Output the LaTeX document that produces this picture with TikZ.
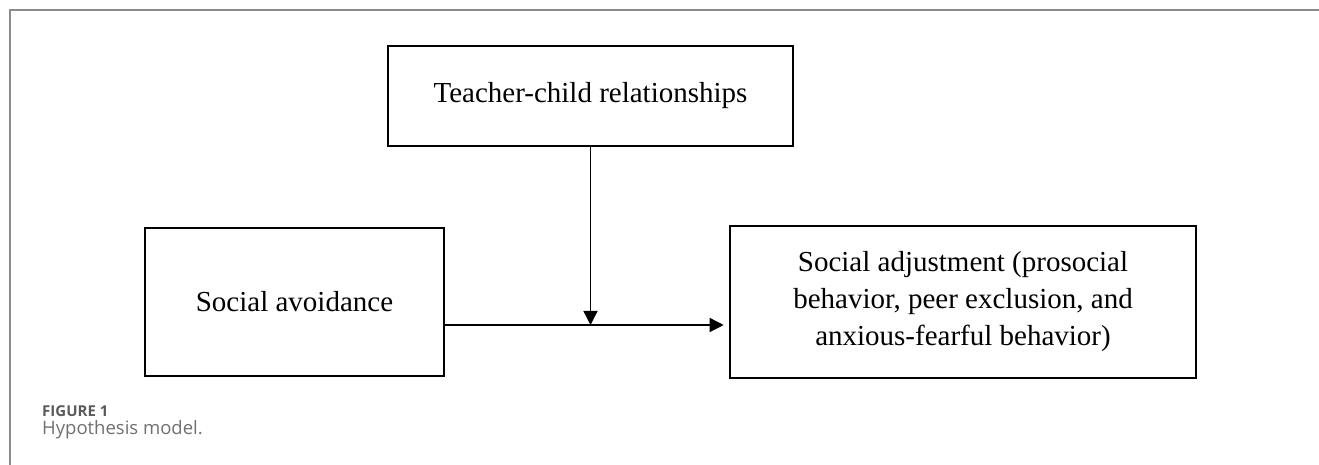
\documentclass[tikz,border=0pt]{standalone}
\usepackage{fontspec}
\setmainfont{Liberation Serif}
\newfontfamily\capfont{Open Sans}
\usetikzlibrary{arrows.meta,positioning}
\definecolor{framegray}{HTML}{8C8C8C}
\definecolor{capgray}{HTML}{707070}
\begin{document}
\begin{tikzpicture}[x=1pt, y=1pt, >={Triangle[width=14pt,length=14pt]},
  box/.style={draw, line width=2.6pt, align=center, inner sep=0pt,
    font=\fontsize{29}{37}\selectfont},
  link/.style={->, line width=1.4pt}]
  \useasboundingbox (0,0) rectangle (1319,465);
  % frame of the figure
  \draw[framegray, line width=1.6pt] (10,0) -- (10,455) -- (1319,455);
  % variables
  \node[box, minimum width=405pt, minimum height=100pt] (tcr) at (590.5,369) {Teacher-child relationships};
  \node[box, minimum width=299pt, minimum height=148pt] (sa) at (294.5,163) {Social avoidance};
  \node[box, minimum width=466pt, minimum height=152pt] (adj) at (963,163)
    {Social adjustment (prosocial\\ behavior, peer exclusion, and\\ anxious-fearful behavior)};
  % paths
  \coordinate (src) at ([yshift=-23pt]sa.east);
  \coordinate (join) at (src -| tcr.south);
  \draw[link] (tcr.south) -- (join);
  \draw[link] (src) -- ([xshift=-5pt]src -| adj.west);
  % caption
  \node[anchor=base west, inner sep=0pt, text=capgray!80!black, font=\capfont\bfseries\fontsize{15}{18}\selectfont] (fig) at (42,48) {FIGURE 1};
  \node[anchor=base west, inner sep=0pt, text=capgray, font=\capfont\fontsize{18.5}{22}\selectfont] (cap) at (42,30.5) {Hypothesis model.};
\end{tikzpicture}
\end{document}
